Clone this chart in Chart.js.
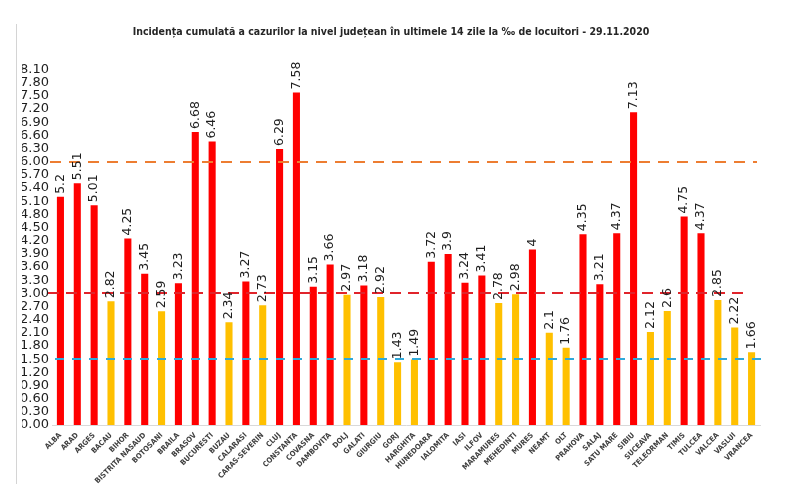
<!DOCTYPE html>
<html>
<head>
<meta charset="utf-8">
<script src="https://cdn.jsdelivr.net/npm/chart.js@4.4.0/dist/chart.umd.min.js"></script>
<style>
  html, body { margin: 0; padding: 0; background: #fff; }
  #wrap { position: relative; width: 800px; height: 484px; }
  #edge { position: absolute; left: 16px; top: 24px; bottom: 0; border-left: 1px solid #d4d4d4; }
</style>
</head>
<body>
<div id="wrap">
  <div id="edge"></div>
  <canvas id="incidence"></canvas>
</div>
<script>
const counties = ['ALBA', 'ARAD', 'ARGES', 'BACAU', 'BIHOR', 'BISTRITA NASAUD', 'BOTOSANI', 'BRAILA',
  'BRASOV', 'BUCURESTI', 'BUZAU', 'CALARASI', 'CARAS-SEVERIN', 'CLUJ', 'CONSTANTA', 'COVASNA',
  'DAMBOVITA', 'DOLJ', 'GALATI', 'GIURGIU', 'GORJ', 'HARGHITA', 'HUNEDOARA', 'IALOMITA', 'IASI',
  'ILFOV', 'MARAMURES', 'MEHEDINTI', 'MURES', 'NEAMT', 'OLT', 'PRAHOVA', 'SALAJ', 'SATU MARE',
  'SIBIU', 'SUCEAVA', 'TELEORMAN', 'TIMIS', 'TULCEA', 'VALCEA', 'VASLUI', 'VRANCEA'];
const incidence = [5.2, 5.51, 5.01, 2.82, 4.25, 3.45, 2.59, 3.23,
  6.68, 6.46, 2.34, 3.27, 2.73, 6.29, 7.58, 3.15,
  3.66, 2.97, 3.18, 2.92, 1.43, 1.49, 3.72, 3.9, 3.24,
  3.41, 2.78, 2.98, 4, 2.1, 1.76, 4.35, 3.21, 4.37,
  7.13, 2.12, 2.6, 4.75, 4.37, 2.85, 2.22, 1.66];
const yTicks = [0, 0.3, 0.6, 0.9, 1.2, 1.5, 1.8, 2.1, 2.4, 2.7, 3, 3.3, 3.6, 3.9, 4.2, 4.5,
  4.8, 5.1, 5.4, 5.7, 6, 6.3, 6.6, 6.9, 7.2, 7.5, 7.8, 8.1];
const thresholds = [6, 3, 1.5];

const RED = '#FF0000';
const YELLOW = '#FFC000';
// dashed reference lines: colour, dash and how far they stick out of the plot area
const thresholdStyles = [
  { color: '#ED7D31', dash: [11, 8], from: -2, to: -3 },
  { color: '#E0242B', dash: [11, 7], from: -4, to: -11 },
  { color: '#2FA9DA', dash: [9, 8], from: 3, to: 2 }
];

const barColors = incidence.map((v) => (v >= 3 ? RED : YELLOW));

const thresholdLines = {
  id: 'thresholdLines',
  afterDatasetsDraw(chart) {
    const { ctx, chartArea } = chart;
    const y = chart.scales.y;
    ctx.save();
    ctx.lineWidth = 2.2;
    thresholds.forEach((t, i) => {
      const st = thresholdStyles[i];
      const py = Math.round(y.getPixelForValue(t));
      ctx.strokeStyle = st.color;
      ctx.setLineDash(st.dash);
      ctx.beginPath();
      ctx.moveTo(chartArea.left + st.from, py);
      ctx.lineTo(chartArea.right + st.to, py);
      ctx.stroke();
    });
    ctx.restore();
  }
};

const valueLabels = {
  id: 'valueLabels',
  afterDatasetsDraw(chart) {
    const { ctx } = chart;
    const meta = chart.getDatasetMeta(0);
    ctx.save();
    ctx.font = '12.5px "DejaVu Sans", sans-serif';
    ctx.fillStyle = '#1e1e1e';
    ctx.textAlign = 'left';
    ctx.textBaseline = 'middle';
    meta.data.forEach((bar, i) => {
      ctx.save();
      ctx.translate(bar.x, bar.y - 3);
      ctx.rotate(-Math.PI / 2);
      ctx.fillText(String(incidence[i]), 0, 0);
      ctx.restore();
    });
    ctx.restore();
  }
};

new Chart(document.getElementById('incidence'), {
  type: 'bar',
  data: {
    labels: counties,
    datasets: [{
      data: incidence,
      backgroundColor: barColors,
      barPercentage: 0.42,
      categoryPercentage: 1
    }]
  },
  options: {
    responsive: true,
    maintainAspectRatio: false,
    animation: false,
    devicePixelRatio: 1,
    layout: { padding: { left: 22, right: 40, top: 0, bottom: 0 } },
    plugins: {
      legend: { display: false },
      tooltip: { enabled: false },
      title: {
        display: true,
        text: 'Incidența cumulată a cazurilor la nivel județean în ultimele 14 zile la ‰ de locuitori - 29.11.2020',
        color: '#262626',
        font: { family: '"Liberation Sans Narrow", "DejaVu Sans Condensed", "Liberation Sans", sans-serif', size: 10.5, weight: 'bold' },
        padding: { top: 26, bottom: 31 }
      }
    },
    scales: {
      x: {
        grid: { display: false, drawTicks: false },
        border: { color: '#d9d9d9' },
        afterFit: (scale) => { scale.height = 59; },
        ticks: {
          autoSkip: false,
          minRotation: 45,
          maxRotation: 45,
          padding: 6,
          color: '#404040',
          font: { family: '"Liberation Sans Narrow", "DejaVu Sans Condensed", "Liberation Sans", sans-serif', size: 7.5, weight: 'bold' }
        }
      },
      y: {
        min: 0,
        max: 8.1,
        grid: { display: false, drawTicks: false },
        border: { display: false },
        afterFit: (scale) => { scale.width = 30; },
        afterBuildTicks: (scale) => { scale.ticks = yTicks.map((v) => ({ value: v })); },
        ticks: {
          autoSkip: false,
          padding: 3,
          color: '#1e1e1e',
          font: { family: '"DejaVu Sans", sans-serif', size: 13 },
          callback: (v) => Number(v).toFixed(2)
        }
      }
    }
  },
  plugins: [thresholdLines, valueLabels]
});
</script>
</body>
</html>
